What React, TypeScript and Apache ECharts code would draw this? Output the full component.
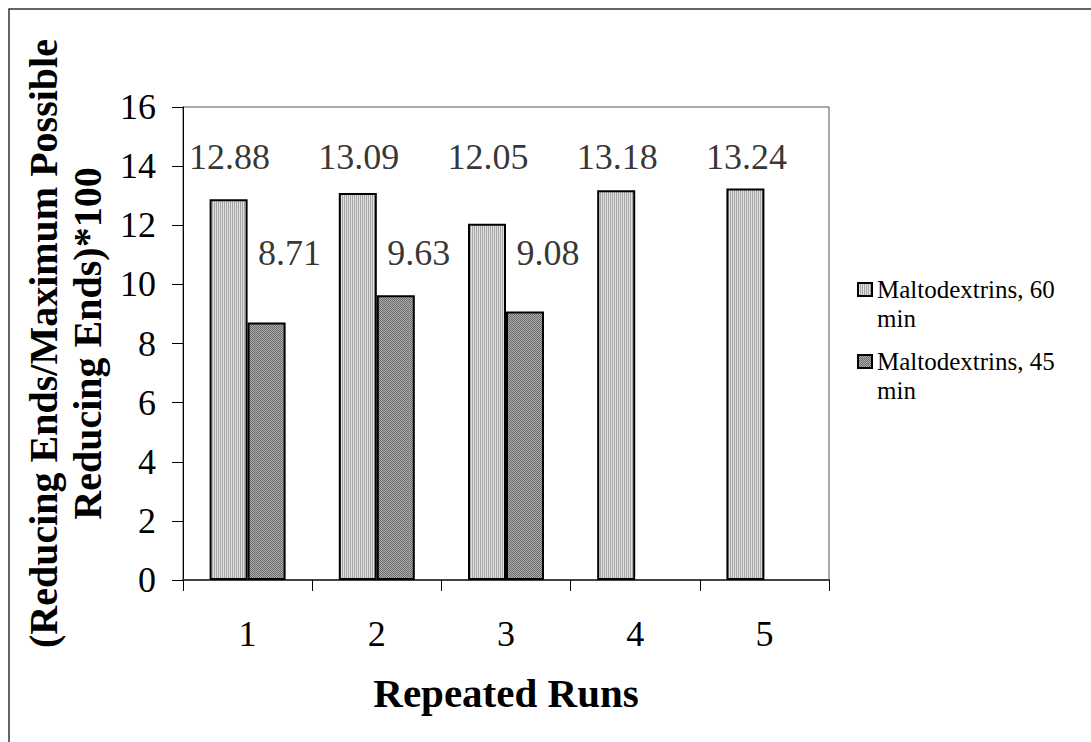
import React, { useEffect, useRef } from "react";
import * as echarts from "echarts";

const categories = ["1", "2", "3", "4", "5"];
const series60: number[] = [12.88, 13.09, 12.05, 13.18, 13.24];
const series45: (number | null)[] = [8.71, 9.63, 9.08, null, null];
const seriesNames = ["Maltodextrins, 60 min", "Maltodextrins, 45 min"];
const legendLabels = ["Maltodextrins, 60\nmin", "Maltodextrins, 45\nmin"];
const xTitle = "Repeated Runs";
const yTitle = "(Reducing Ends/Maximum Possible\nReducing Ends)*100";
const yMin = 0;
const yMax = 16;
const yStep = 2;

// vertical positions (axis units) of the floating data labels
const LABEL_Y60 = 14.31;
const LABEL_Y45 = 11.06;

const FONT = "Liberation Serif";

function makePattern(kind: "stripe" | "check") {
  const c = document.createElement("canvas");
  c.width = 2;
  c.height = 2;
  const ctx = c.getContext("2d")!;
  if (kind === "stripe") {
    ctx.fillStyle = "#e0e0e0";
    ctx.fillRect(0, 0, 2, 2);
    ctx.fillStyle = "#a6a6a6";
    ctx.fillRect(0, 0, 1, 2);
  } else {
    ctx.fillStyle = "#acacac";
    ctx.fillRect(0, 0, 2, 2);
    ctx.fillStyle = "#6c6c6c";
    ctx.fillRect(0, 0, 1, 1);
    ctx.fillRect(1, 1, 1, 1);
  }
  return { image: c, repeat: "repeat", imageWidth: 2, imageHeight: 2 } as any;
}

export default function App() {
  const ref = useRef<HTMLDivElement>(null);
  useEffect(() => {
    document.body.style.margin = "0";
    if (!ref.current) return;
    const chart = echarts.init(ref.current, null, { renderer: "svg" });
    const p60 = makePattern("stripe");
    const p45 = makePattern("check");
    chart.setOption({
      animation: false,
      backgroundColor: "#ffffff",
      textStyle: { fontFamily: FONT },
      graphic: [
        {
          type: "rect",
          shape: { x: 9, y: 9, width: 1200, height: 900 },
          style: { fill: "none", stroke: "#333", lineWidth: 1.5 },
          silent: true,
          z: -10,
        },
      ],
      grid: {
        left: 183,
        top: 107,
        right: 262,
        bottom: 162,
        show: true,
        borderColor: "#555",
        borderWidth: 1,
        backgroundColor: "transparent",
      },
      legend: {
        data: seriesNames,
        orient: "vertical",
        left: 852,
        top: 241,
        itemWidth: 14,
        itemHeight: 13,
        itemGap: -15,
        icon: "rect",
        selectedMode: false,
        formatter: (name: string) => "\n" + legendLabels[seriesNames.indexOf(name)],
        textStyle: {
          fontFamily: FONT,
          fontSize: 25,
          color: "#000",
          lineHeight: 29,
        },
      },
      xAxis: {
        type: "category",
        data: categories,
        name: xTitle,
        nameLocation: "middle",
        nameGap: 92,
        nameTextStyle: { fontFamily: FONT, fontSize: 41, fontWeight: "bold", color: "#000" },
        axisLine: { lineStyle: { color: "#444", width: 2 } },
        axisTick: { show: true, length: 11, lineStyle: { color: "#000", width: 1 } },
        axisLabel: { fontFamily: FONT, fontSize: 36, color: "#000", margin: 36 },
        splitLine: { show: false },
      },
      yAxis: {
        type: "value",
        min: yMin,
        max: yMax,
        interval: yStep,
        name: yTitle,
        nameLocation: "middle",
        nameRotate: 90,
        nameGap: 74,
        nameTextStyle: {
          fontFamily: FONT,
          fontSize: 40,
          fontWeight: "bold",
          color: "#000",
          lineHeight: 44,
          align: "center",
        },
        axisLine: { show: true, lineStyle: { color: "#000", width: 1 } },
        axisTick: { show: true, length: 11, lineStyle: { color: "#000", width: 1 } },
        axisLabel: { fontFamily: FONT, fontSize: 36, color: "#000", margin: 27 },
        splitLine: { show: false },
      },
      series: [
        {
          name: seriesNames[0],
          type: "bar",
          data: series60,
          barWidth: 38,
          barGap: "0%",
          itemStyle: { color: p60, borderColor: "#000", borderWidth: 2 },
        },
        {
          name: seriesNames[1],
          type: "bar",
          data: series45.map((v) => (v == null ? "-" : v)),
          barWidth: 38,
          barGap: "0%",
          itemStyle: { color: p45, borderColor: "#000", borderWidth: 2 },
        },
        {
          type: "scatter",
          silent: true,
          symbolSize: 1,
          itemStyle: { color: "rgba(0,0,0,0)" },
          data: series60.map((v, i) => ({ value: [i, LABEL_Y60], name: v.toFixed(2) })),
          label: {
            show: true,
            position: "inside",
            offset: [-18, 0],
            formatter: (p: any) => p.name,
            fontFamily: FONT,
            fontSize: 36,
            color: "#000",
          },
        },
        {
          type: "scatter",
          silent: true,
          symbolSize: 1,
          itemStyle: { color: "rgba(0,0,0,0)" },
          data: series45
            .map((v, i) => (v == null ? null : { value: [i, LABEL_Y45], name: v.toFixed(2) }))
            .filter((d) => d != null),
          label: {
            show: true,
            position: "inside",
            offset: [42, 0],
            formatter: (p: any) => p.name,
            fontFamily: FONT,
            fontSize: 36,
            color: "#000",
          },
        },
      ],
    });
    return () => chart.dispose();
  }, []);
  return <div ref={ref} style={{ width: 1091, height: 742 }} />;
}
